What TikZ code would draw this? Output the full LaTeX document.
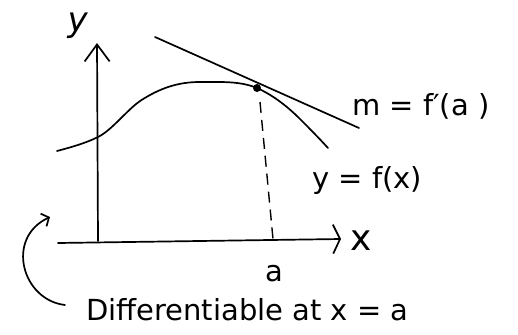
\documentclass[tikz,border=0pt]{standalone}
\usepackage{fontspec}
\setmainfont{DejaVu Sans}
\usetikzlibrary{arrows.meta}
\begin{document}
\begin{tikzpicture}[x=1pt,y=-1pt,
  ink/.style={line width=1.7pt,line cap=round,line join=round},
  lbl/.style={font=\fontsize{29}{31}\selectfont,inner sep=0pt}]
\useasboundingbox (0,0) rectangle (518,334);
% axes
\coordinate (yb) at (98,241);
\coordinate (yt) at (97,43);
\coordinate (xl) at (58,243);
\coordinate (xr) at (341,239);
\draw[ink,-{Straight Barb[length=17pt,width=25pt]}] (yb) -- (yt);
\draw[ink,-{Straight Barb[length=7pt,width=29pt]}] (xl) -- (xr);
\node[lbl,font=\fontsize{34}{36}\selectfont] (ylab) at (78,26) {\textit{y}};
\node[lbl,anchor=west,font=\fontsize{36}{38}\selectfont] (xlab) at (350,241) {x};
% curve
\draw[ink] (57,151) .. controls (72,147) and (86,143) .. (98,137)
  .. controls (112,130) and (126,111) .. (140,101)
  .. controls (160,88) and (178,82) .. (200,82)
  .. controls (222,82) and (240,81) .. (257,88)
  .. controls (271.3,94.4) and (285.7,104.7) .. (300,119)
  .. controls (309.3,128.3) and (318.7,137.8) .. (328,148);
% tangent
\coordinate (t1) at (155,37);
\coordinate (t2) at (359,128);
\draw[ink] (t1) -- (t2);
\node[circle,fill=black,inner sep=0pt,minimum size=8pt] (P) at (257,88) {};
% dashed
\coordinate (dtop) at (260,102);
\coordinate (dfoot) at (273,239);
\draw[line width=1.4pt,dash pattern=on 11pt off 7pt] (dtop) -- (dfoot);
% labels
\node[lbl,anchor=west] (mlab) at (352,106) {m = f′(a )};
\node[lbl,anchor=west] (flab) at (312,180) {y = f(x)};
\node[lbl] (alab) at (274,274) {a};
\node[lbl,anchor=west] (dlab) at (86,310) {Differentiable at x = a};
% curved arrow
\coordinate (cs) at (65,305);
\coordinate (ce) at (50,217);
\draw[ink,-{Straight Barb[length=6pt,width=14pt]}] (cs) .. controls (22,300) and (5,238) .. (ce);
\end{tikzpicture}
\end{document}
